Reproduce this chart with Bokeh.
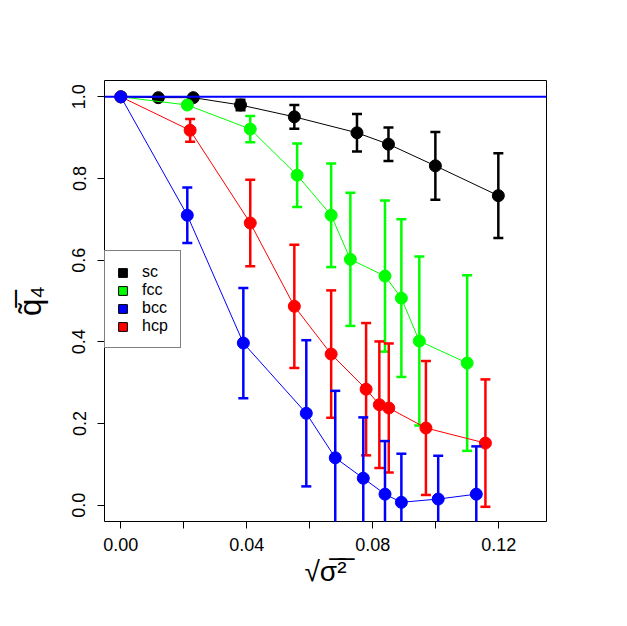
from bokeh.plotting import figure
from bokeh.models import Span, Legend, LegendItem, FixedTicker, ColumnDataSource
from bokeh.embed import file_html
from bokeh.resources import INLINE
import numpy as np

# ---- data ----
x_sc = [0.0, 0.0119, 0.0230, 0.0380, 0.0551, 0.0750, 0.0850, 0.0999, 0.1199]
y_sc = [1.000, 0.998, 0.998, 0.980, 0.951, 0.912, 0.884, 0.831, 0.758]
e_sc = [0.0, 0.003, 0.003, 0.013, 0.029, 0.046, 0.041, 0.083, 0.104]

x_fcc = [0.0, 0.0211, 0.0411, 0.0560, 0.0668, 0.0729, 0.0839, 0.0891, 0.0948, 0.1100]
y_fcc = [1.000, 0.980, 0.921, 0.808, 0.710, 0.602, 0.561, 0.507, 0.402, 0.348]
e_fcc = [0.0, 0.004, 0.032, 0.078, 0.127, 0.163, 0.185, 0.193, 0.207, 0.215]

x_bcc = [0.0, 0.0211, 0.0389, 0.0589, 0.0681, 0.0770, 0.0839, 0.0891, 0.1008, 0.1129]
y_bcc = [1.000, 0.710, 0.397, 0.225, 0.116, 0.066, 0.027, 0.007, 0.015, 0.027]
e_bcc = [0.0, 0.068, 0.135, 0.179, 0.164, 0.149, 0.130, 0.119, 0.106, 0.117]

x_hcp = [0.0, 0.0220, 0.0411, 0.0551, 0.0668, 0.0779, 0.0821, 0.0851, 0.0969, 0.1158]
y_hcp = [1.000, 0.918, 0.691, 0.487, 0.370, 0.284, 0.246, 0.238, 0.189, 0.152]
e_hcp = [0.0, 0.028, 0.106, 0.151, 0.156, 0.162, 0.155, 0.158, 0.164, 0.156]

series_names = ["sc", "fcc", "bcc", "hcp"]
series_colors = ["black", "#00FF00", "blue", "red"]

x_ticks = [0.0, 0.02, 0.04, 0.06, 0.08, 0.10, 0.12]
x_tick_labels = ["0.00", "", "0.04", "", "0.08", "", "0.12"]
y_ticks = [0.0, 0.2, 0.4, 0.6, 0.8, 1.0]
y_tick_labels = ["0.0", "0.2", "0.4", "0.6", "0.8", "1.0"]

FONT = "Liberation Sans"

p = figure(width=619, height=618, output_backend="svg", toolbar_location=None,
           x_range=(-0.0052, 0.1352), y_range=(-0.04, 1.04),
           min_border_left=104, min_border_top=80, min_border_right=73, min_border_bottom=97)
p.background_fill_color = "white"
p.border_fill_color = "white"
p.grid.visible = False
p.outline_line_color = "black"
p.outline_line_width = 1

p.xaxis.ticker = FixedTicker(ticks=x_ticks)
p.xaxis.major_label_overrides = {t: l for t, l in zip(x_ticks, x_tick_labels)}
p.yaxis.ticker = FixedTicker(ticks=y_ticks)
p.yaxis.major_label_overrides = {t: l for t, l in zip(y_ticks, y_tick_labels)}
p.yaxis.major_label_orientation = "vertical"

for ax in (p.xaxis[0], p.yaxis[0]):
    ax.axis_line_color = None
    ax.major_tick_in = 0
    ax.major_tick_out = 7
    ax.major_tick_line_color = "black"
    ax.minor_tick_line_color = None
    ax.major_label_text_font = FONT
    ax.major_label_text_font_size = "18px"
    ax.major_label_text_color = "black"
    ax.axis_label_text_font = FONT
    ax.axis_label_text_font_style = "normal"
    ax.axis_label_text_color = "black"

p.xaxis.major_label_standoff = 9
p.yaxis.major_label_standoff = 12
p.xaxis.axis_label = "\u221a\u03c3\u0305\u00b2\u0305"
p.xaxis.axis_label_text_font_size = "28px"
p.xaxis.axis_label_standoff = 2
p.yaxis.axis_label = "q\u0303\u0305\u2084"
p.yaxis.axis_label_text_font_size = "31px"
p.yaxis.axis_label_standoff = 22

data = {
    "sc": (x_sc, y_sc, e_sc),
    "fcc": (x_fcc, y_fcc, e_fcc),
    "bcc": (x_bcc, y_bcc, e_bcc),
    "hcp": (x_hcp, y_hcp, e_hcp),
}
color_of = dict(zip(series_names, series_colors))

for name in ["sc", "fcc", "hcp", "bcc"]:
    xs, ys, es = data[name]
    c = color_of[name]
    xs = np.array(xs); ys = np.array(ys); es = np.array(es)
    p.line(xs, ys, line_color=c, line_width=1)
    m = es > 0
    src = ColumnDataSource(dict(x=xs[m], lo=(ys - es)[m], hi=(ys + es)[m]))
    p.segment(x0="x", y0="lo", x1="x", y1="hi", source=src, line_color=c, line_width=2.5)
    p.scatter(x="x", y="lo", source=src, marker="dash", size=10, line_color=c, line_width=2.5)
    p.scatter(x="x", y="hi", source=src, marker="dash", size=10, line_color=c, line_width=2.5)
    p.scatter(xs, ys, marker="circle", size=12, fill_color=c, line_color=c)

p.add_layout(Span(location=1.0, dimension="width", line_color="blue", line_width=2))

items = []
for name, c in zip(series_names, series_colors):
    r = p.quad(left=[np.nan], right=[np.nan], bottom=[np.nan], top=[np.nan],
               fill_color=c, line_color="black", line_width=1)
    items.append(LegendItem(label=name, renderers=[r]))

legend = Legend(items=items, location=(0, 173), margin=0, padding=12, spacing=0,
                glyph_width=11, glyph_height=11, label_height=18, label_standoff=14,
                label_text_font=FONT, label_text_font_size="16px", label_text_color="black",
                border_line_color="black", border_line_width=1,
                background_fill_color="white", background_fill_alpha=1.0)
p.add_layout(legend)

open("out.html", "w").write(file_html(p, INLINE))
